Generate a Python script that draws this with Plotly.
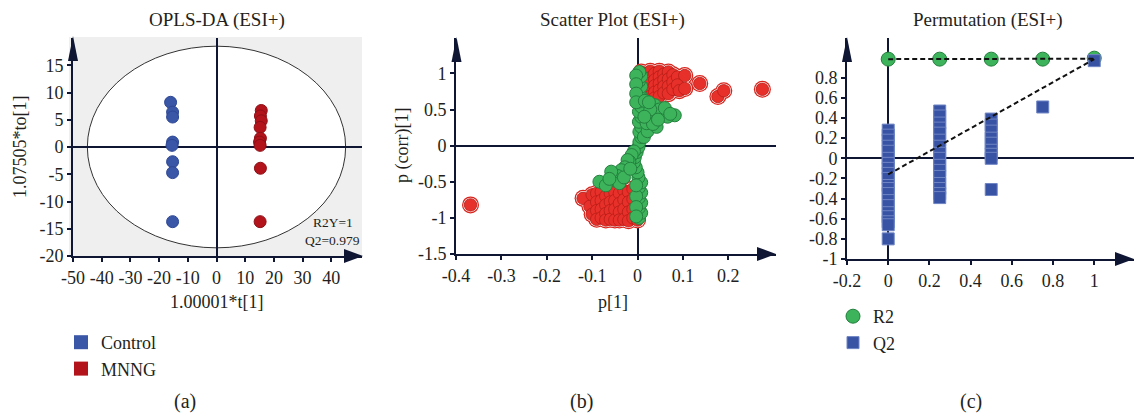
import plotly.graph_objects as go

W, H = 1134, 415
FONT = "Liberation Serif, Times New Roman, serif"
INK = "#231f20"
AXIS = "#0f1633"

# ---------------- (a) OPLS-DA score plot ----------------
control_t = [-16.0, -15.3, -15.3, -15.3, -15.5, -15.3, -15.3, -15.3]
control_to = [8.2, 6.4, 5.5, 0.9, 0.3, -2.7, -4.7, -13.7]
mnng_t = [15.6, 15.3, 15.6, 15.2, 15.3, 15.0, 15.2, 15.3, 15.2]
mnng_to = [6.7, 5.7, 4.8, 3.6, 1.6, 0.9, 0.3, -3.9, -13.7]
a_xticks = [-50, -40, -30, -20, -10, 0, 10, 20, 30, 40]
a_xtext = ["-50", "-40", "-30", "-20", "-10", "0", "10", "20", "30", "40"]
a_yticks = [-20, -15, -10, -5, 0, 5, 10, 15]
a_ytext = ["-20", "-15", "-10", "-5", "0", "5", "10", "15"]
ellipse_rx = 45.0
ellipse_ry = 18.5

# ---------------- (b) S-plot ----------------
red_p = [
    0.008, 0.008, 0.008, 0.008, 0.008,
    0.018, 0.018, 0.018, 0.018, 0.018,
    0.028, 0.028, 0.028, 0.028, 0.028,
    0.038, 0.038, 0.038, 0.038, 0.038,
    0.048, 0.048, 0.048, 0.048, 0.048,
    0.058, 0.058, 0.058, 0.058,
    0.068, 0.068, 0.068, 0.068,
    0.078, 0.078, 0.078,
    0.088, 0.088, 0.092,
    0.104, 0.104,
    0.137, 0.177, 0.19, 0.275,
    -0.12,
    -0.105, -0.10, -0.10,
    -0.09, -0.09, -0.09, -0.09,
    -0.08, -0.08, -0.08, -0.08,
    -0.07, -0.07, -0.07, -0.07,
    -0.06, -0.06, -0.06, -0.06,
    -0.05, -0.05, -0.05, -0.05,
    -0.04, -0.04, -0.04, -0.04,
    -0.03, -0.03, -0.03, -0.03,
    -0.02, -0.02, -0.02, -0.02,
    -0.01, -0.01, -0.01, -0.01,
    0.0,
    -0.368,
]
red_corr = [
    1.02, 0.93, 0.85, 0.77, 0.7,
    1.0, 0.9, 0.82, 0.74, 0.66,
    1.03, 0.94, 0.86, 0.77, 0.68,
    1.0, 0.91, 0.83, 0.74, 0.66,
    1.03, 0.95, 0.86, 0.77, 0.68,
    0.99, 0.91, 0.82, 0.73,
    1.02, 0.92, 0.82, 0.72,
    0.98, 0.88, 0.78,
    0.95, 0.84, 0.76,
    0.97, 0.79,
    0.86, 0.68, 0.76, 0.78,
    -0.73,
    -0.84, -0.68, -0.95,
    -0.66, -0.78, -0.9, -1.02,
    -0.64, -0.76, -0.88, -1.0,
    -0.7, -0.82, -0.94, -1.03,
    -0.66, -0.78, -0.9, -1.02,
    -0.64, -0.76, -0.88, -1.03,
    -0.66, -0.8, -0.92, -1.03,
    -0.62, -0.75, -0.88, -1.02,
    -0.64, -0.78, -0.92, -1.04,
    -0.6, -0.74, -0.88, -1.0,
    -1.03,
    -0.82,
]
green_p = [
    # main vertical column
    0.003, 0.008, 0.003, 0.008, 0.003, 0.008, 0.003, 0.008, 0.002, 0.0,
    -0.004, -0.008, -0.006, -0.002, 0.002, 0.004, 0.008, 0.004, 0.008, 0.003,
    0.008, 0.003, 0.008, 0.003, 0.008, 0.003, 0.008, 0.003, 0.008, 0.004,
    -0.003, -0.003, -0.003, -0.003, -0.003, -0.003, -0.003, -0.003,
    # spread to the upper right
    0.014, 0.022, 0.02, 0.03, 0.042, 0.038, 0.056, 0.082, 0.048, 0.066,
    0.028, 0.016, 0.034, 0.06, 0.072, 0.045, 0.025, 0.015,
    # spread to the lower left
    -0.008, -0.013, -0.018, -0.022, -0.028, -0.036, -0.044, -0.05, -0.058,
    -0.084, -0.07, -0.04, -0.03, -0.062, -0.016,
]
green_corr = [
    -1.0, -0.93, -0.86, -0.79, -0.72, -0.65, -0.58, -0.51, -0.44, -0.37,
    -0.3, -0.23, -0.16, -0.09, -0.02, 0.05, 0.12, 0.19, 0.26, 0.33,
    0.4, 0.47, 0.54, 0.61, 0.68, 0.75, 0.82, 0.89, 0.96, 1.02,
    0.97, 0.85, 0.72, 0.6, -0.7, -0.85, -0.98, -0.55,
    0.12, 0.2, 0.31, 0.38, 0.26, 0.56, 0.45, 0.42, 0.5, 0.4,
    0.5, 0.62, 0.3, 0.52, 0.44, 0.36, 0.6, 0.4,
    -0.08, -0.13, -0.22, -0.2, -0.3, -0.34, -0.42, -0.47, -0.36,
    -0.5, -0.55, -0.52, -0.44, -0.46, -0.32,
]
b_xticks = [-0.4, -0.3, -0.2, -0.1, 0, 0.1, 0.2]
b_xtext = ["-0.4", "-0.3", "-0.2", "-0.1", "0", "0.1", "0.2"]
b_yticks = [-1.5, -1, -0.5, 0, 0.5, 1]
b_ytext = ["-1.5", "-1", "-0.5", "0", "0.5", "1"]

# ---------------- (c) Permutation test ----------------
r2_x = [0, 0.25, 0.5, 0.75, 1]
r2_y = [0.985, 0.985, 0.985, 0.985, 0.995]
q2_x = ([0] * 20) + ([0.25] * 16) + ([0.5] * 9) + [0.75, 1]
q2_y = [
    0.28, 0.23, 0.18, 0.12, 0.07, 0.0, -0.05, -0.1, -0.15, -0.2,
    -0.27, -0.3, -0.35, -0.42, -0.47, -0.54, -0.58, -0.63, -0.66, -0.8,
    0.47, 0.42, 0.35, 0.3, 0.25, 0.18, 0.12, 0.05, 0.0, -0.07,
    -0.12, -0.18, -0.25, -0.3, -0.35, -0.39,
    0.39, 0.33, 0.27, 0.2, 0.15, 0.08, 0.04, 0.0, -0.31,
    0.51, 0.97,
]
r2_line_x = [0, 1]
r2_line_y = [0.985, 0.99]
q2_line_x = [0, 1]
q2_line_y = [-0.16, 0.985]
c_xticks = [-0.2, 0, 0.2, 0.4, 0.6, 0.8, 1]
c_xtext = ["-0.2", "0", "0.2", "0.4", "0.6", "0.8", "1"]
c_yticks = [-1, -0.8, -0.6, -0.4, -0.2, 0, 0.2, 0.4, 0.6, 0.8]
c_ytext = ["-1", "-0.8", "-0.6", "-0.4", "-0.2", "0", "0.2", "0.4", "0.6", "0.8"]

BLUE = "#3a56a6"
DARKRED = "#b3131b"
RED = "#e8302a"
GREEN = "#3db45c"
QBLUE = "#3953a4"


def px(x):
    return x / W


def py(y):
    return 1 - y / H


fig = go.Figure()

# (a)
fig.add_trace(go.Scatter(x=control_t, y=control_to, mode="markers", xaxis="x", yaxis="y",
                         marker=dict(size=12, color=BLUE, line=dict(color="#2d4794", width=1)),
                         showlegend=False))
fig.add_trace(go.Scatter(x=mnng_t, y=mnng_to, mode="markers", xaxis="x", yaxis="y",
                         marker=dict(size=12, color=DARKRED, line=dict(color="#8e0f15", width=1)),
                         showlegend=False))
fig.add_trace(go.Scatter(x=[None], y=[None], mode="markers", xaxis="x", yaxis="y", name="Control",
                         marker=dict(symbol="square", size=14, color=BLUE), legend="legend"))
fig.add_trace(go.Scatter(x=[None], y=[None], mode="markers", xaxis="x", yaxis="y", name="MNNG",
                         marker=dict(symbol="square", size=14, color=DARKRED), legend="legend"))

# (b) red points drawn as outer ring, white ring, then filled disc
fig.add_trace(go.Scatter(x=red_p, y=red_corr, mode="markers", xaxis="x2", yaxis="y2",
                         marker=dict(size=17, color="#d9241c", line=dict(width=0)), showlegend=False))
fig.add_trace(go.Scatter(x=red_p, y=red_corr, mode="markers", xaxis="x2", yaxis="y2",
                         marker=dict(size=14.5, color="white", line=dict(width=0)), showlegend=False))
fig.add_trace(go.Scatter(x=red_p, y=red_corr, mode="markers", xaxis="x2", yaxis="y2",
                         marker=dict(size=12.5, color=RED, line=dict(color="#b51d17", width=0.8)),
                         showlegend=False))
fig.add_trace(go.Scatter(x=green_p, y=green_corr, mode="markers", xaxis="x2", yaxis="y2",
                         marker=dict(size=13, color=GREEN, line=dict(color="#23803d", width=1)),
                         showlegend=False))

# (c)
fig.add_trace(go.Scatter(x=r2_x, y=r2_y, mode="markers", xaxis="x3", yaxis="y3", name="R2",
                         marker=dict(size=14, color=GREEN, line=dict(color="#23803d", width=1)),
                         legend="legend2"))
fig.add_trace(go.Scatter(x=q2_x, y=q2_y, mode="markers", xaxis="x3", yaxis="y3", name="Q2",
                         marker=dict(symbol="square", size=12, color=QBLUE,
                                     line=dict(color="#6f85c4", width=1)),
                         legend="legend2"))
fig.add_trace(go.Scatter(x=r2_line_x, y=r2_line_y, mode="lines", xaxis="x3", yaxis="y3",
                         line=dict(color="#111111", width=2, dash="5px,3px"), showlegend=False))
fig.add_trace(go.Scatter(x=q2_line_x, y=q2_line_y, mode="lines", xaxis="x3", yaxis="y3",
                         line=dict(color="#111111", width=2, dash="5px,3px"), showlegend=False))


def axis_style(**kw):
    d = dict(showline=True, linecolor=AXIS, linewidth=2, ticks="outside", ticklen=4,
             tickwidth=1.5, tickcolor=AXIS, showgrid=False, zeroline=True,
             zerolinecolor=AXIS, zerolinewidth=2, tickmode="array", automargin=False,
             tickfont=dict(family=FONT, size=18, color=INK), fixedrange=True)
    d.update(kw)
    return d


fig.update_layout(
    template="none",
    width=W, height=H, margin=dict(l=0, r=0, t=0, b=0, pad=0, autoexpand=False),
    paper_bgcolor="white", plot_bgcolor="rgba(0,0,0,0)",
    font=dict(family=FONT, color=INK),
    xaxis=axis_style(domain=[px(73), px(362)], range=[-50, 50.7], anchor="y",
                     tickvals=a_xticks, ticktext=a_xtext),
    yaxis=axis_style(domain=[py(256), py(38)], range=[-20, 20], anchor="x",
                     tickvals=a_yticks, ticktext=a_ytext),
    xaxis2=axis_style(domain=[px(456), px(776)], range=[-0.4, 0.305], anchor="y2",
                      tickvals=b_xticks, ticktext=b_xtext),
    yaxis2=axis_style(domain=[py(254), py(38)], range=[-1.5, 1.49], anchor="x2",
                      tickvals=b_yticks, ticktext=b_ytext),
    xaxis3=axis_style(domain=[px(847), px(1134)], range=[-0.2, 1.193], anchor="y3",
                      tickvals=c_xticks, ticktext=c_xtext),
    yaxis3=axis_style(domain=[py(259), py(38)], range=[-1, 1.195], anchor="x3",
                      tickvals=c_yticks, ticktext=c_ytext),
    legend=dict(x=px(61), y=py(324), xanchor="left", yanchor="top",
                font=dict(family=FONT, size=18, color=INK), bgcolor="rgba(0,0,0,0)",
                tracegroupgap=0, borderwidth=0),
    legend2=dict(x=px(833), y=py(298), xanchor="left", yanchor="top",
                 font=dict(family=FONT, size=18, color=INK), bgcolor="rgba(0,0,0,0)",
                 tracegroupgap=0, borderwidth=0),
)

shapes = []
# gray background of panel (a) and white confidence ellipse
shapes.append(dict(type="rect", xref="paper", yref="paper", x0=px(69), x1=px(362),
                   y0=py(256), y1=py(37), fillcolor="#efefef", line=dict(width=0), layer="below"))
shapes.append(dict(type="circle", xref="x", yref="y", x0=-ellipse_rx, x1=ellipse_rx,
                   y0=-ellipse_ry, y1=ellipse_ry, fillcolor="white",
                   line=dict(color="#333333", width=1), layer="below"))


def tri(points):
    p = "M " + " L ".join(f"{px(a)},{py(b)}" for a, b in points) + " Z"
    return dict(type="path", xref="paper", yref="paper", path=p, fillcolor=AXIS,
                line=dict(width=0), layer="above")


# axis arrows
for ax_x, top in [(73, 36), (456.5, 37), (847, 37)]:
    shapes.append(tri([(ax_x, top), (ax_x - 5, top + 25), (ax_x + 5, top + 25)]))
for tip_x, ax_y in [(363, 256), (776, 254), (1134, 259)]:
    shapes.append(tri([(tip_x, ax_y), (tip_x - 19, ax_y - 7), (tip_x - 19, ax_y + 7)]))
fig.update_layout(shapes=shapes)

ann = []


def text(t, x, y, size, angle=0):
    ann.append(dict(text=t, x=px(x), y=py(y), xref="paper", yref="paper", showarrow=False,
                    xanchor="center", yanchor="middle", textangle=angle,
                    font=dict(family=FONT, size=size, color=INK)))


text("OPLS-DA (ESI+)", 217, 20, 19)
text("Scatter Plot (ESI+)", 612, 20, 19)
text("Permutation (ESI+)", 988, 20, 19)
text("1.07505*to[1]", 20, 147, 18, -90)
text("1.00001*t[1]", 217, 302, 18)
text("p (corr)[1]", 402, 146, 18, -90)
text("p[1]", 613, 302, 18)
text("R2Y=1", 333, 222, 13.5)
text("Q2=0.979", 332, 240, 13.5)
text("(a)", 185, 401, 20)
text("(b)", 581, 401, 20)
text("(c)", 971, 401, 20)
fig.update_layout(annotations=ann)

fig.write_html("out.html")
